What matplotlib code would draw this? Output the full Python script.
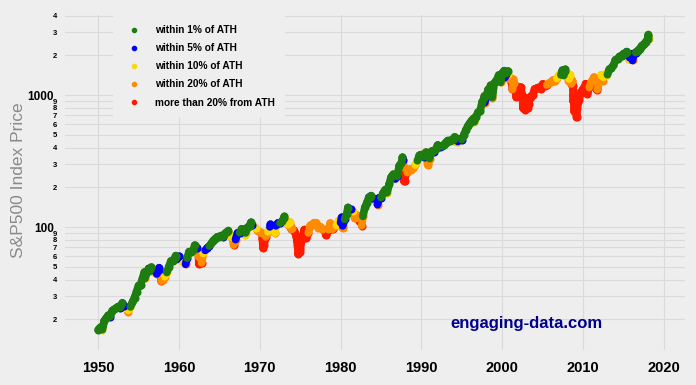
import matplotlib
matplotlib.use("Agg")
import matplotlib.pyplot as plt
import numpy as np
from matplotlib.collections import LineCollection
from matplotlib.lines import Line2D
from matplotlib.ticker import FixedLocator, FixedFormatter

plt.rcParams["font.family"] = ["Liberation Sans", "DejaVu Sans"]

# S&P500 quarter-end closes, 1950 Q1 .. 2017 Q4
quarter_close = [
    17.29, 17.69, 19.45, 20.41,  # 1950
    21.40, 20.96, 23.26, 23.77,
    24.37, 24.96, 24.54, 26.57,
    25.29, 24.14, 23.35, 24.81,
    26.94, 29.21, 32.31, 35.98,
    36.58, 41.03, 43.67, 45.48,  # 1955
    48.48, 46.97, 45.35, 46.67,
    44.11, 47.37, 42.42, 39.99,
    42.10, 45.24, 50.06, 55.21,
    55.44, 58.47, 56.88, 59.89,
    55.34, 56.92, 53.52, 58.11,  # 1960
    65.06, 64.64, 66.73, 71.55,
    69.55, 54.75, 56.27, 63.10,
    66.57, 69.37, 71.70, 75.02,
    78.98, 81.69, 84.18, 84.75,
    86.16, 84.12, 89.96, 92.43,  # 1965
    89.23, 84.74, 76.56, 80.33,
    90.20, 90.64, 96.71, 96.47,
    90.20, 99.58, 102.67, 103.86,
    101.51, 97.71, 93.12, 92.06,
    89.63, 72.72, 84.21, 92.15,  # 1970
    100.31, 99.70, 98.34, 102.09,
    107.20, 107.14, 110.55, 118.05,
    111.52, 104.26, 108.43, 97.55,
    93.98, 86.00, 63.54, 68.56,
    83.36, 95.19, 83.87, 90.19,  # 1975
    102.77, 104.28, 105.24, 107.46,
    98.42, 100.48, 96.53, 95.10,
    89.21, 95.53, 102.54, 96.11,
    101.59, 102.91, 109.32, 107.94,
    102.09, 114.24, 125.46, 135.76,  # 1980
    136.00, 131.21, 116.18, 122.55,
    111.96, 109.61, 120.42, 140.64,
    152.96, 168.11, 166.07, 164.93,
    159.18, 153.18, 166.10, 167.24,
    180.66, 191.85, 182.08, 211.28,  # 1985
    238.90, 250.84, 231.32, 242.17,
    291.70, 304.00, 321.83, 247.08,
    258.89, 273.50, 271.91, 277.72,
    294.87, 317.98, 349.15, 353.40,
    339.94, 358.02, 306.05, 330.22,  # 1990
    375.22, 371.16, 387.86, 417.09,
    403.69, 408.14, 417.80, 435.71,
    451.67, 450.53, 458.93, 466.45,
    445.77, 444.27, 462.69, 459.27,
    500.71, 544.75, 584.41, 615.93,  # 1995
    645.50, 670.63, 687.31, 740.74,
    757.12, 885.14, 947.28, 970.43,
    1101.75, 1133.84, 1017.01, 1229.23,
    1286.37, 1372.71, 1282.71, 1469.25,
    1498.58, 1454.60, 1436.51, 1320.28,  # 2000
    1160.33, 1224.42, 1040.94, 1148.08,
    1147.39, 989.82, 815.28, 879.82,
    848.18, 974.50, 995.97, 1111.92,
    1126.21, 1140.84, 1114.58, 1211.92,
    1180.59, 1191.33, 1228.81, 1248.29,  # 2005
    1294.83, 1270.20, 1335.85, 1418.30,
    1420.86, 1503.35, 1526.75, 1468.36,
    1322.70, 1280.00, 1166.36, 903.25,
    797.87, 919.32, 1057.08, 1115.10,
    1169.43, 1030.71, 1141.20, 1257.64,  # 2010
    1325.83, 1320.64, 1131.42, 1257.60,
    1408.47, 1362.16, 1440.67, 1426.19,
    1569.19, 1606.28, 1681.55, 1848.36,
    1872.34, 1960.23, 1972.29, 2058.90,
    2067.89, 2063.11, 1920.03, 2043.94,  # 2015
    2059.74, 2098.86, 2168.27, 2238.83,
    2362.72, 2423.41, 2519.36, 2673.61,
]

# intra-quarter highs and lows (decimal year, price)
extra_dates = [
    1950.00, 1950.53, 1953.70, 1955.73, 1955.74, 1955.78, 1956.59, 1957.54,
    1957.81, 1959.59, 1960.82, 1961.95, 1962.33, 1962.42, 1962.48, 1962.81,
    1966.11, 1966.77, 1968.22, 1968.91, 1970.33, 1970.40, 1971.32, 1971.89,
    1973.03, 1973.92, 1974.58, 1974.67, 1974.76, 1974.93, 1975.54, 1975.71,
    1976.72, 1978.18, 1978.70, 1979.77, 1980.12, 1980.24, 1980.91, 1982.61,
    1983.77, 1984.56, 1987.65, 1987.79, 1987.80, 1987.805, 1987.81, 1987.92,
    1990.54, 1990.78, 1994.09, 1994.26, 1996.55, 1997.78, 1997.82, 1998.54,
    1998.62, 1998.64, 1998.67, 1998.76, 1999.55, 1999.79, 2000.23, 2000.32,
    2000.67, 2001.26, 2001.38, 2001.66, 2001.70, 2001.72, 2002.52, 2002.545,
    2002.55, 2002.56, 2002.58, 2002.64, 2002.78, 2002.83, 2002.91, 2003.19,
    2007.44, 2007.61, 2007.78, 2008.20, 2008.38, 2008.54, 2008.67, 2008.76,
    2008.765, 2008.775, 2008.78, 2008.80, 2008.84, 2008.87, 2008.89, 2008.91,
    2009.05, 2009.13, 2009.18, 2010.31, 2010.41, 2010.51, 2011.33, 2011.58,
    2011.595, 2011.61, 2011.76, 2012.26, 2012.42, 2015.39, 2015.65, 2016.11,
    2018.04, 2018.07, 2018.10,
]
extra_prices = [
    16.66, 16.68, 22.71, 45.63, 42.61, 40.80, 49.74, 49.13,
    38.98, 60.71, 52.20, 72.64, 65.24, 59.63, 52.32, 53.49,
    94.06, 73.20, 87.72, 108.37, 81.52, 69.29, 104.77, 90.16,
    120.24, 95.96, 79.31, 72.15, 62.28, 65.01, 95.61, 82.09,
    107.83, 86.90, 106.99, 111.27, 118.44, 98.22, 140.52, 102.42,
    172.65, 147.82, 336.77, 282.70, 224.84, 236.83, 258.38, 223.92,
    368.95, 295.46, 482.00, 438.92, 626.65, 983.12, 876.99, 1186.75,
    1081.43, 1064.00, 957.28, 959.44, 1418.78, 1247.41, 1527.46, 1356.56,
    1520.77, 1103.25, 1312.83, 1133.58, 1038.77, 965.80, 920.47, 847.75,
    797.70, 843.43, 911.62, 962.70, 776.76, 885.76, 938.87, 800.73,
    1539.18, 1406.70, 1565.15, 1273.37, 1426.63, 1214.91, 1282.83, 1099.23,
    996.23, 909.92, 899.22, 1003.35, 968.75, 904.88, 752.44, 896.24,
    825.88, 735.09, 676.53, 1217.28, 1089.41, 1022.58, 1363.61, 1292.28,
    1200.07, 1119.46, 1099.23, 1419.04, 1278.04, 2130.82, 1867.61, 1829.08,
    2823.81, 2872.87, 2650.00,
]

labels = ["within 1% of ATH", "within 5% of ATH", "within 10% of ATH",
          "within 20% of ATH", "more than 20% from ATH"]
colors = ["#1e7d10", "#0000ff", "#ffd700", "#ff8c00", "#ff1a00"]
limits = [0.01, 0.05, 0.10, 0.20, 1.0]

quarter_dates = 1950.25 + 0.25 * np.arange(len(quarter_close))
dates = np.concatenate([quarter_dates, extra_dates])
prices = np.concatenate([quarter_close, extra_prices])
order = np.argsort(dates)
dates, prices = dates[order], prices[order]

drawdown = 1 - prices / np.maximum.accumulate(prices)
cat = np.searchsorted(limits, drawdown, side="left")

bg = "#eeeeee"
fig = plt.figure(figsize=(6.96, 3.85), dpi=100, facecolor=bg)
ax = fig.add_axes([65 / 696, 1 - 350 / 385, 620 / 696, 335 / 385])
ax.set_facecolor(bg)
ax.set_yscale("log")

# thick band: segments + dots, worst category first so near-ATH ends up on top
pts = np.column_stack([dates, prices])
segs = np.stack([pts[:-1], pts[1:]], axis=1)
seg_cat = cat[1:]
for k in range(len(labels) - 1, -1, -1):
    z = 3 + (len(labels) - k) * 0.1
    m = seg_cat == k
    if m.any():
        ax.add_collection(LineCollection(segs[m], colors=colors[k], linewidths=5.6,
                                         capstyle="round", zorder=z))
    m = cat == k
    ax.scatter(dates[m], prices[m], s=34, color=colors[k], linewidths=0, zorder=z)

ax.set_xlim(1945.9, 2022.6)
ax.set_ylim(11.7, 4040)

# ticks
ax.set_xticks(np.arange(1950, 2021, 10))
ax.set_xticklabels([str(y) for y in range(1950, 2021, 10)], fontsize=10.5, fontweight="bold")
ax.yaxis.set_major_locator(FixedLocator([100, 1000]))
ax.yaxis.set_major_formatter(FixedFormatter(["100", "1000"]))
minor = [m * 10 ** e for e in (1, 2, 3) for m in range(2, 10) if m * 10 ** e <= 4000]
ax.yaxis.set_minor_locator(FixedLocator(minor))
ax.yaxis.set_minor_formatter(FixedFormatter([str(int(round(v / 10 ** int(np.log10(v))))) for v in minor]))
ax.tick_params(axis="y", which="major", length=0, pad=8, labelsize=8.5)
ax.tick_params(axis="y", which="minor", length=0, pad=6, labelsize=5.5)
ax.tick_params(axis="x", length=0, pad=8)
for t in ax.get_yticklabels(which="both"):
    t.set_fontweight("bold")

ax.grid(True, which="both", axis="y", color="#dadada", linewidth=0.8, zorder=0)
ax.grid(True, which="major", axis="x", color="#dadada", linewidth=0.8, zorder=0)
ax.set_axisbelow(True)
for s in ax.spines.values():
    s.set_visible(False)

fig.text(19 / 696, 1 - 180 / 385, "S&P500 Index Price", rotation=90, ha="center",
         va="center", fontsize=12.5, color="#8a8a8a")

handles = [Line2D([], [], marker="o", linestyle="", markersize=3, color=c) for c in colors]
leg = ax.legend(handles, labels, loc="upper left", bbox_to_anchor=(113 / 696, 1 - 15 / 385),
                bbox_transform=fig.transFigure, frameon=True, facecolor=bg, edgecolor="none",
                framealpha=1, borderaxespad=0, borderpad=1.0, handlelength=2.1,
                handletextpad=1.0, labelspacing=0.8, prop={"size": 7.3, "weight": "bold"})
leg.set_zorder(5)

ax.text(0.745, 0.08, "engaging-data.com", transform=ax.transAxes, ha="center", va="center",
        fontsize=12, fontweight="bold", color="#00008b", zorder=6)

fig.savefig("out.png", dpi=100, facecolor=bg)
